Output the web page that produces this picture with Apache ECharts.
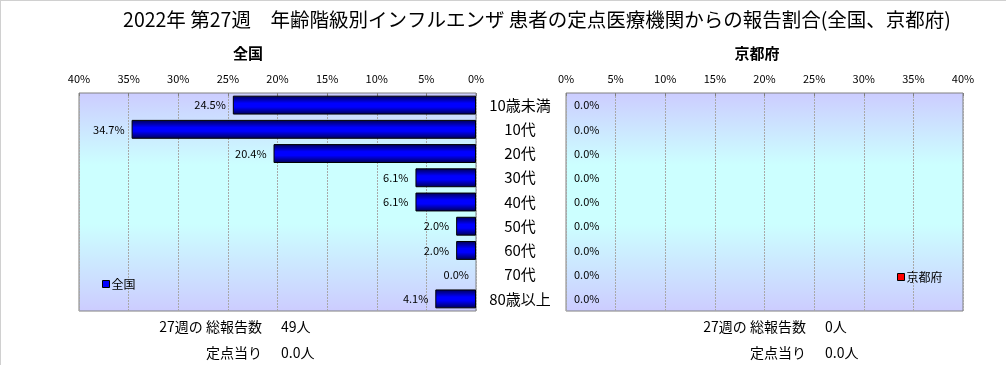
<!DOCTYPE html>
<html><head><meta charset="utf-8">
<script src="https://cdn.jsdelivr.net/npm/echarts@6/dist/echarts.min.js"></script>
<style>html,body{margin:0;padding:0;background:#fff}#c{width:1006px;height:365px}</style>
</head><body><div id="c"></div>
<script>
const FONT = '"Noto Sans CJK JP", "Noto Sans", sans-serif';
const titleText = '2022年 第27週　年齢階級別インフルエンザ 患者の定点医療機関からの報告割合(全国、京都府)';
const categories = ['10歳未満','10代','20代','30代','40代','50代','60代','70代','80歳以上'];
const nationalValues = [24.5, 34.7, 20.4, 6.1, 6.1, 2.0, 2.0, 0.0, 4.1];
const kyotoValues = [0.0, 0.0, 0.0, 0.0, 0.0, 0.0, 0.0, 0.0, 0.0];
const axisMax = 40;
const axisInterval = 5;
const nationalSummary = {total: '49人', perPoint: '0.0人'};
const kyotoSummary = {total: '0人', perPoint: '0.0人'};

const bg = {type:'linear',x:0,y:0,x2:0,y2:1,colorStops:[
  {offset:0,color:'#ccccff'},{offset:0.33,color:'#ccffff'},{offset:0.6,color:'#ccffff'},{offset:1,color:'#ccccff'}]};
const blueGrad = {type:'linear',x:0,y:0,x2:0,y2:1,colorStops:[
  {offset:0,color:'#000050'},{offset:0.4,color:'#0000ff'},{offset:0.6,color:'#0000ff'},{offset:1,color:'#000050'}]};
const redGrad = {type:'linear',x:0,y:0,x2:0,y2:1,colorStops:[
  {offset:0,color:'#500000'},{offset:0.4,color:'#ff0000'},{offset:0.6,color:'#ff0000'},{offset:1,color:'#500000'}]};

function mkData(arr){ return arr.map(v => v === 0 ? {value:v, itemStyle:{borderWidth:0}} : v); }
const pctLabel = p => p.value.toFixed(1) + '%';

function valAxis(gi, inverse){
  return {type:'value', gridIndex:gi, position:'top', inverse:inverse, min:0, max:axisMax, interval:axisInterval,
    axisLine:{show:false},
    axisTick:{show:true, inside:true, length:3, lineStyle:{color:'#808080'}},
    axisLabel:{formatter:'{value}%', fontFamily:FONT, fontSize:11, color:'#000', margin:9},
    splitLine:{show:true, lineStyle:{color:'#a8a8a8', type:[2,1], width:1}}};
}

const chart = echarts.init(document.getElementById('c'), null, {renderer:'canvas'});
chart.setOption({
  backgroundColor:'#fff',
  animation:false,
  title:[
    {text:titleText, left:532, textAlign:'center', top:5, textStyle:{fontFamily:FONT, fontSize:19.5, fontWeight:'normal', color:'#000'}},
    {text:'全国', left:243, textAlign:'center', top:41, textStyle:{fontFamily:FONT, fontSize:15, fontWeight:'bold', color:'#000'}},
    {text:'京都府', left:752, textAlign:'center', top:41, textStyle:{fontFamily:FONT, fontSize:15, fontWeight:'bold', color:'#000'}}
  ],
  legend:[
    {data:['全国'], left:97, top:273, icon:'rect', itemWidth:7, itemHeight:7, itemGap:2,
      textStyle:{fontFamily:FONT, fontSize:12, color:'#000', padding:[0,0,0,-3]},
      itemStyle:{color:'#0000ff', borderColor:'#000', borderWidth:1}},
    {data:['京都府'], left:892, top:266, icon:'rect', itemWidth:7, itemHeight:7, itemGap:2,
      textStyle:{fontFamily:FONT, fontSize:12, color:'#000', padding:[0,0,0,-3]},
      itemStyle:{color:'#ff0000', borderColor:'#000', borderWidth:1}}
  ],
  grid:[
    {left:79, top:93, width:397, height:218, show:true, backgroundColor:bg, borderColor:'#808080', borderWidth:1},
    {left:566, top:93, width:397, height:218, show:true, backgroundColor:bg, borderColor:'#808080', borderWidth:1}
  ],
  xAxis:[valAxis(0,true), valAxis(1,false)],
  yAxis:[
    {type:'category', gridIndex:0, data:categories, inverse:true, position:'right',
      axisLine:{show:false}, axisTick:{show:false},
      axisLabel:{fontFamily:FONT, fontSize:15, color:'#000', align:'center', margin:44}},
    {type:'category', gridIndex:1, data:categories, inverse:true,
      axisLine:{show:false}, axisTick:{show:false}, axisLabel:{show:false}}
  ],
  series:[
    {name:'全国', type:'bar', xAxisIndex:0, yAxisIndex:0, data:mkData(nationalValues), barCategoryGap:'22%',
      itemStyle:{color:blueGrad, borderColor:'#000', borderWidth:1},
      label:{show:true, position:'left', distance:7, formatter:pctLabel, fontFamily:FONT, fontSize:11, color:'#000'}},
    {name:'京都府', type:'bar', xAxisIndex:1, yAxisIndex:1, data:mkData(kyotoValues), barCategoryGap:'22%',
      itemStyle:{color:redGrad, borderColor:'#000', borderWidth:1},
      label:{show:true, position:'right', distance:8, formatter:pctLabel, fontFamily:FONT, fontSize:11, color:'#000'}}
  ],
  graphic:[
    {type:'line', shape:{x1:0,y1:0.5,x2:1006,y2:0.5}, style:{stroke:'#d0d0d0', lineWidth:1}},
    {type:'line', shape:{x1:0.5,y1:0,x2:0.5,y2:365}, style:{stroke:'#d0d0d0', lineWidth:1}},
    {type:'text', x:262, y:327, style:{text:'27週の 総報告数', align:'right', verticalAlign:'middle', font:'14px '+FONT, fill:'#000'}},
    {type:'text', x:281, y:327, style:{text:nationalSummary.total, align:'left', verticalAlign:'middle', font:'14px '+FONT, fill:'#000'}},
    {type:'text', x:262, y:353, style:{text:'定点当り', align:'right', verticalAlign:'middle', font:'14px '+FONT, fill:'#000'}},
    {type:'text', x:281, y:353, style:{text:nationalSummary.perPoint, align:'left', verticalAlign:'middle', font:'14px '+FONT, fill:'#000'}},
    {type:'text', x:806, y:327, style:{text:'27週の 総報告数', align:'right', verticalAlign:'middle', font:'14px '+FONT, fill:'#000'}},
    {type:'text', x:825, y:327, style:{text:kyotoSummary.total, align:'left', verticalAlign:'middle', font:'14px '+FONT, fill:'#000'}},
    {type:'text', x:806, y:353, style:{text:'定点当り', align:'right', verticalAlign:'middle', font:'14px '+FONT, fill:'#000'}},
    {type:'text', x:825, y:353, style:{text:kyotoSummary.perPoint, align:'left', verticalAlign:'middle', font:'14px '+FONT, fill:'#000'}}
  ]
});
</script></body></html>
